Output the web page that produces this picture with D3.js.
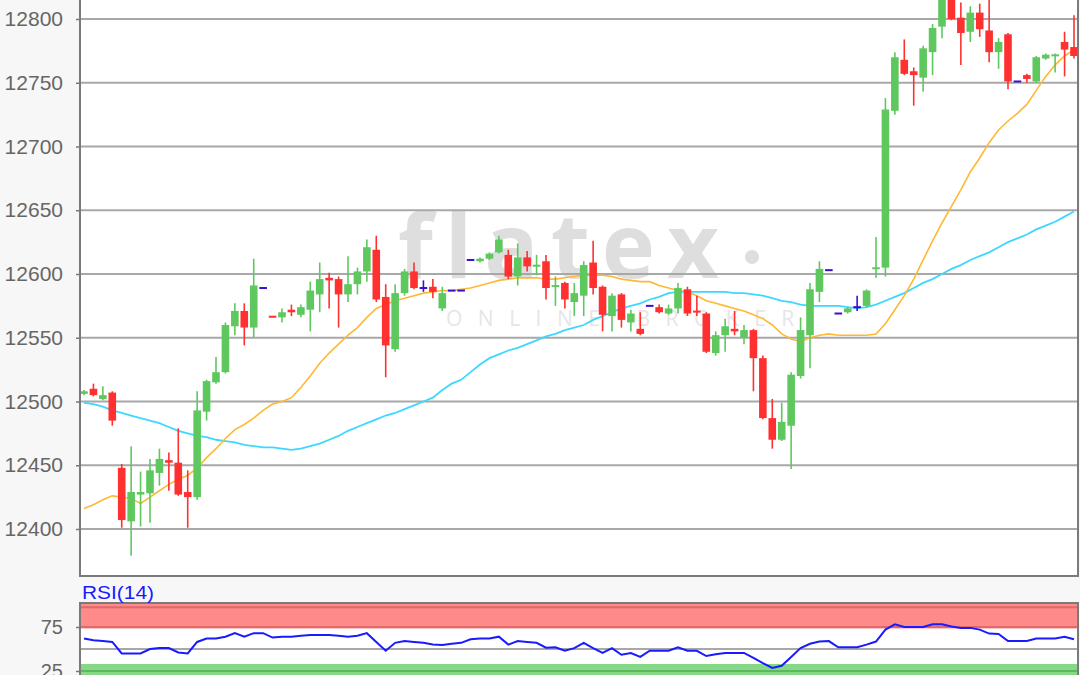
<!DOCTYPE html>
<html><head><meta charset="utf-8">
<script src="https://cdn.jsdelivr.net/npm/d3@7"></script>
<style>html,body{margin:0;padding:0;background:#f7f7f7;} svg{display:block;font-family:"Liberation Sans",Arial,sans-serif;}</style>
</head><body><svg id="c" width="1080" height="675"></svg>
<script>
const openV=[12506,12510,12502,12507,12448,12406,12427,12428,12444,12454,
12452,12429,12425,12492,12515,12523,12559,12571,12558,12589,
12567,12566,12572,12568,12572,12584,12597,12596,12584,12592,
12602,12619,12582,12541,12585,12602,12589,12590,12573,12587,
12587,12611,12610,12612,12617,12615,12598,12613,12606,12610,
12590,12593,12578,12583,12609,12590,12567,12584,12562,12557,
12575,12574,12569,12573,12588,12571,12569,12538,12552,12557,
12550,12556,12534,12487,12470,12481,12520,12552,12586,12603,
12569,12570,12574,12575,12604,12605,12728,12768,12759,12754,
12774,12794,12818,12801,12790,12805,12791,12774,12788,12751,
12756,12751,12769,12771,12782,12778];
const highV=[12509,12514,12512,12508,12451,12465,12445,12455,12463,12460,
12479,12446,12508,12517,12535,12562,12577,12577,12612,12589,
12567,12573,12576,12576,12594,12609,12601,12598,12614,12605,
12627,12630,12592,12592,12604,12609,12595,12596,12590,12587,
12587,12611,12613,12617,12630,12619,12624,12618,12615,12615,
12598,12594,12593,12610,12626,12591,12585,12585,12572,12570,
12575,12576,12576,12593,12590,12583,12570,12555,12565,12571,
12560,12557,12536,12502,12499,12523,12566,12593,12610,12603,
12569,12574,12583,12588,12629,12738,12774,12784,12762,12779,
12796,12822,12822,12813,12810,12812,12815,12785,12789,12751,
12757,12771,12773,12773,12790,12803];
const lowV=[12505,12504,12501,12481,12401,12379,12402,12405,12434,12430,
12426,12401,12423,12485,12514,12522,12552,12544,12550,12589,
12566,12562,12567,12566,12555,12570,12573,12558,12578,12584,
12594,12578,12519,12539,12583,12588,12586,12581,12571,12587,
12587,12611,12609,12611,12616,12596,12591,12602,12599,12580,
12575,12573,12567,12567,12584,12555,12555,12558,12555,12552,
12575,12569,12568,12569,12567,12567,12538,12536,12539,12552,
12545,12508,12486,12463,12469,12447,12518,12526,12578,12603,
12569,12569,12571,12574,12597,12598,12725,12756,12732,12743,
12756,12785,12799,12764,12782,12786,12766,12761,12745,12751,
12750,12750,12768,12758,12755,12769];
const closeV=[12508,12505,12505,12485,12407,12429,12429,12446,12455,12452,
12427,12425,12493,12516,12523,12560,12571,12558,12591,12589,
12566,12570,12570,12574,12587,12596,12595,12584,12592,12602,
12621,12580,12544,12585,12602,12589,12589,12586,12585,12587,
12587,12611,12612,12616,12627,12598,12613,12606,12607,12589,
12591,12580,12585,12607,12589,12568,12583,12564,12569,12553,
12575,12570,12573,12589,12569,12570,12539,12552,12559,12555,
12556,12534,12487,12470,12484,12521,12556,12588,12604,12603,
12569,12573,12574,12587,12605,12729,12770,12757,12756,12777,
12793,12818,12800,12789,12805,12792,12774,12782,12751,12751,
12753,12770,12772,12772,12776,12771];
const maShort=[12416,12419,12423,12426,12425,12424,12420,12425,12430,12435,
12439,12442,12448,12456,12463,12471,12478,12482,12487,12493,
12498,12500,12503,12511,12520,12530,12538,12545,12552,12558,
12566,12573,12576,12579,12581,12583,12585,12586,12587,12587,
12588,12589,12591,12593,12595,12596,12597,12597,12597,12596,
12596,12597,12598,12599,12599,12599,12598,12596,12595,12594,
12594,12591,12589,12587,12586,12583,12579,12577,12575,12573,
12571,12568,12565,12560,12553,12549,12547,12550,12552,12553,
12552,12552,12552,12552,12553,12561,12572,12583,12596,12611,
12626,12640,12653,12666,12680,12691,12703,12713,12720,12726,
12733,12744,12755,12764,12771,12776];
const maLong=[12499,12498,12496,12493,12491,12489,12487,12485,12483,12480,
12477,12475,12473,12472,12470,12469,12468,12466,12465,12464,
12464,12463,12462,12463,12465,12467,12470,12473,12477,12480,
12483,12486,12489,12491,12494,12497,12500,12503,12509,12514,
12517,12523,12529,12534,12537,12540,12542,12545,12548,12551,
12553,12556,12558,12560,12564,12567,12570,12573,12575,12577,
12580,12582,12585,12586,12586,12586,12586,12586,12586,12585,
12585,12584,12583,12581,12579,12578,12576,12575,12575,12575,
12575,12574,12573,12574,12576,12579,12582,12585,12589,12593,
12596,12600,12604,12607,12611,12614,12617,12621,12625,12628,
12631,12635,12638,12641,12645,12649];
const rsiV=[62,60,59,58,45,45,45,50,51,51,
46,45,58,62,62,64,68,64,68,68,
63,64,64,65,66,66,66,65,64,65,
68,58,48,57,59,58,57,55,54.5,56,
57,61,62,62,64,55,59,58,57,51.5,
52,48,51,57,51,45.5,51,43.5,45.5,41,
48,48,48,52,48,48,42,44,45.5,45.5,
45.5,40,34,28.5,31,41,51,56,58.5,59,
52,52,52,55,58.5,72,78,75,75,75,
78,78,75.5,74,74,72,67.5,67,59,59,
59,62,62,62,64,61];
const priceTicks=[12400,12450,12500,12550,12600,12650,12700,12750,12800];
const rsiTicks=[25,75];
const rsiLabel="RSI(14)";

const svg=d3.select("#c");
const L=80,R=1078,B=576;
const idx=d3.range(openV.length);
const x=d3.scaleLinear().domain([0,idx.length-1]).range([84,1074]);
const y=d3.scaleLinear().domain([12400,12800]).range([529,19]);

// main plot area
svg.append("rect").attr("x",L).attr("y",-5).attr("width",R-L).attr("height",B+5).attr("fill","#fff");
svg.append("defs").append("clipPath").attr("id","pc").append("rect").attr("x",L+1).attr("y",-20).attr("width",R-L-2).attr("height",B+19);

// watermark
const wm=svg.append("g").attr("fill","#dedede");
wm.append("text").attr("x",398).attr("y",278).attr("font-family","'Open Sans',sans-serif").attr("font-weight",700)
  .attr("font-size",90).attr("letter-spacing",12).text("flatex");
wm.append("circle").attr("cx",752).attr("cy",257).attr("r",7);
wm.append("text").attr("x",446).attr("y",326).attr("font-family","'Open Sans',sans-serif").attr("font-size",21)
  .attr("letter-spacing",15.5).attr("fill","#e6e6e6").text("ONLINE BROKER");

// grid
svg.append("g").selectAll("line").data(priceTicks).join("line")
  .attr("x1",L).attr("x2",R).attr("y1",d=>y(d)).attr("y2",d=>y(d))
  .attr("stroke","#a8a8a8").attr("stroke-width",2);

// axis
const yAxis=d3.axisLeft(y).tickValues(priceTicks).tickSize(4).tickPadding(13).tickFormat(d3.format("d"));
const ag=svg.append("g").attr("transform",`translate(${L},0)`).call(yAxis);
ag.select(".domain").remove();
ag.selectAll(".tick line").attr("stroke","#777").attr("stroke-width",1.5);
ag.selectAll(".tick text").attr("fill","#666").attr("font-size",21).attr("font-family","'Liberation Sans',Arial,sans-serif");

const plot=svg.append("g").attr("clip-path","url(#pc)");
const lineGen=arr=>d3.line().x((d,i)=>x(i)).y(d=>y(d))(arr);
plot.append("path").attr("d",lineGen(maLong)).attr("fill","none").attr("stroke","#3dd8ff").attr("stroke-width",1.8);
plot.append("path").attr("d",lineGen(maShort)).attr("fill","none").attr("stroke","#ffb833").attr("stroke-width",1.6);

const col=i=>closeV[i]>openV[i]?"#5ec85e":(closeV[i]<openV[i]?"#ff3030":"#3a10d0");
const cg=plot.append("g");
cg.selectAll("line").data(idx).join("line")
  .attr("x1",i=>x(i)).attr("x2",i=>x(i)).attr("y1",i=>y(highV[i])).attr("y2",i=>y(lowV[i]))
  .attr("stroke",col).attr("stroke-width",1.6);
const bw=7.6;
cg.selectAll("rect").data(idx).join("rect")
  .attr("x",i=>x(i)-bw/2).attr("width",bw)
  .attr("y",i=>{const t=y(Math.max(openV[i],closeV[i])),b=y(Math.min(openV[i],closeV[i]));return b-t<2?(t+b)/2-1:t;})
  .attr("height",i=>{const t=y(Math.max(openV[i],closeV[i])),b=y(Math.min(openV[i],closeV[i]));return Math.max(2,b-t);})
  .attr("fill",col);

// frame
svg.append("rect").attr("x",L).attr("y",-5).attr("width",R-L).attr("height",B+5)
  .attr("fill","none").attr("stroke","#7a7a7a").attr("stroke-width",2);

// RSI panel
const ry=d3.scaleLinear().domain([25,75]).range([671,627]);
const PT=603;
svg.append("rect").attr("x",L).attr("y",PT).attr("width",R-L).attr("height",80).attr("fill","#fff");
svg.append("rect").attr("x",L).attr("y",PT).attr("width",R-L).attr("height",ry(73.3)-PT).attr("fill","#ff8a8a");
svg.append("line").attr("x1",L).attr("x2",R).attr("y1",ry(97.5)).attr("y2",ry(97.5)).attr("stroke","#e06a6a").attr("stroke-width",2);
svg.append("line").attr("x1",L).attr("x2",R).attr("y1",ry(75)).attr("y2",ry(75)).attr("stroke","#e06a6a").attr("stroke-width",2);
svg.append("rect").attr("x",L).attr("y",ry(33)).attr("width",R-L).attr("height",680-ry(33)).attr("fill","#86d886");
svg.append("line").attr("x1",L).attr("x2",R).attr("y1",ry(25)).attr("y2",ry(25)).attr("stroke","#5cb85c").attr("stroke-width",2);
svg.append("line").attr("x1",L).attr("x2",R).attr("y1",ry(50)).attr("y2",ry(50)).attr("stroke","#a8a8a8").attr("stroke-width",2);
svg.append("path").attr("d",d3.line().x((d,i)=>x(i)).y(d=>ry(d))(rsiV)).attr("fill","none").attr("stroke","#1a1aff").attr("stroke-width",2);
svg.append("rect").attr("x",L).attr("y",PT).attr("width",R-L).attr("height",80).attr("fill","none").attr("stroke","#7a7a7a").attr("stroke-width",2);
const rAxis=d3.axisLeft(ry).tickValues(rsiTicks).tickSize(4).tickPadding(13);
const rg=svg.append("g").attr("transform",`translate(${L},0)`).call(rAxis);
rg.select(".domain").remove();
rg.selectAll(".tick line").attr("stroke","#777").attr("stroke-width",1.5);
rg.selectAll(".tick text").attr("fill","#666").attr("font-size",20).attr("font-family","'Liberation Sans',Arial,sans-serif");
svg.append("text").attr("x",82).attr("y",599).attr("fill","#1a1aff").attr("font-size",18)
  .attr("textLength",72).attr("lengthAdjust","spacingAndGlyphs").text(rsiLabel);
</script></body></html>
